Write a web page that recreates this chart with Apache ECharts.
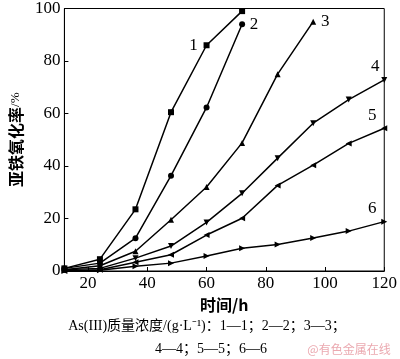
<!DOCTYPE html>
<html><head><meta charset="utf-8">
<script src="https://cdn.jsdelivr.net/npm/echarts@6/dist/echarts.min.js"></script>
<style>html,body{margin:0;padding:0;background:#fff}#c{width:400px;height:359px}</style>
</head><body><div id="c"></div>
<script>
var times = [12, 24, 36, 48, 60, 72, 84, 96, 108, 120];
var s1 = [1, 4.5, 23.5, 60.5, 86, 99];
var s2 = [1, 3, 12.5, 36.3, 62.3, 94];
var s3 = [0.5, 2, 7.5, 19.5, 32, 48.8, 75, 95];
var s4 = [0.5, 1, 4.9, 9.5, 18.5, 29.6, 43, 56.3, 65.3, 72.8];
var s5 = [0, 0.5, 3.3, 6.2, 13.7, 20.1, 32.6, 40.3, 48.6, 54.4];
var s6 = [0, 0.3, 1.8, 3.0, 5.7, 8.7, 10.1, 12.6, 15.2, 18.8];
var seriesNames = ['1', '2', '3', '4', '5', '6'];
var xTicks = [20, 40, 60, 80, 100, 120];
var allSeries = [s1, s2, s3, s4, s5, s6];
var symbols = ['rect', 'circle', 'triangle', 'triangle', 'triangle', 'triangle'];
var rotates = [0, 0, 0, 180, 90, -90];
var sizes = [6, 6, 6, 6, 6, 6];
var labelIdx = [4, 5, 7, 9, 9, 9];
var labelPos = [[-13, 0], [12, 0], [12, 0], [-9, -13], [-12, -13], [-12, -13]];

var serif = 'Liberation Serif';
var series = allSeries.map(function (vals, k) {
  return {
    type: 'line', name: seriesNames[k],
    symbol: symbols[k], symbolRotate: rotates[k], symbolSize: sizes[k],
    showAllSymbol: true,
    lineStyle: {color: '#000', width: 1.5},
    itemStyle: {color: '#000'},
    data: vals.map(function (v, i) {
      var d = {value: [times[i], v]};
      if (i === labelIdx[k]) {
        d.label = {show: true, formatter: seriesNames[k], position: 'inside',
          offset: labelPos[k], color: '#000', fontFamily: serif, fontSize: 17};
      }
      return d;
    })
  };
});

var chart = echarts.init(document.getElementById('c'));
chart.setOption({
  animation: false,
  grid: {left: 55, right: 11, top: 5, bottom: 88, show: true, borderColor: '#000', borderWidth: 1},
  xAxis: {
    type: 'value', min: 12, max: 120,
    name: '时间/h', nameLocation: 'middle', nameGap: 26,
    nameTextStyle: {fontFamily: 'Noto Sans CJK SC', fontWeight: 'bold', fontSize: 16, color: '#000'},
    axisLine: {lineStyle: {color: '#000'}},
    axisTick: {inside: true, length: 4, customValues: xTicks, lineStyle: {color: '#000'}},
    axisLabel: {customValues: xTicks, color: '#000', fontFamily: serif, fontSize: 17, margin: 4},
    splitLine: {show: false}
  },
  yAxis: {
    type: 'value', min: 0, max: 100, interval: 20,
    name: '{a|亚铁氧化率}{b|/%}', nameLocation: 'middle', nameGap: 34, nameRotate: 90,
    nameTextStyle: {color: '#000', rich: {
      a: {fontFamily: 'Noto Sans CJK SC', fontWeight: 'bold', fontSize: 16, color: '#000'},
      b: {fontFamily: serif, fontSize: 13, color: '#000'}
    }},
    axisLine: {lineStyle: {color: '#000'}},
    axisTick: {inside: true, length: 4, lineStyle: {color: '#000'}},
    axisLabel: {color: '#000', fontFamily: serif, fontSize: 17, margin: 4},
    splitLine: {show: false}
  },
  graphic: [
    {type: 'text', x: 207, y: 326, style: {
      text: 'As(III)质量浓度/(g·L⁻¹)：1—1；2—2；3—3；',
      font: '14px "Liberation Serif", "Noto Sans CJK SC"', fill: '#000', textAlign: 'center', textVerticalAlign: 'middle'}},
    {type: 'text', x: 211, y: 349, style: {
      text: '4—4；5—5；6—6',
      font: '14px "Liberation Serif", "Noto Sans CJK SC"', fill: '#000', textAlign: 'center', textVerticalAlign: 'middle'}},
    {type: 'text', x: 349, y: 349, style: {
      text: '@有色金属在线',
      font: '12px "Noto Sans CJK SC"', fill: '#eba9b0', textAlign: 'center', textVerticalAlign: 'middle'}}
  ],
  series: series
});
</script></body></html>
